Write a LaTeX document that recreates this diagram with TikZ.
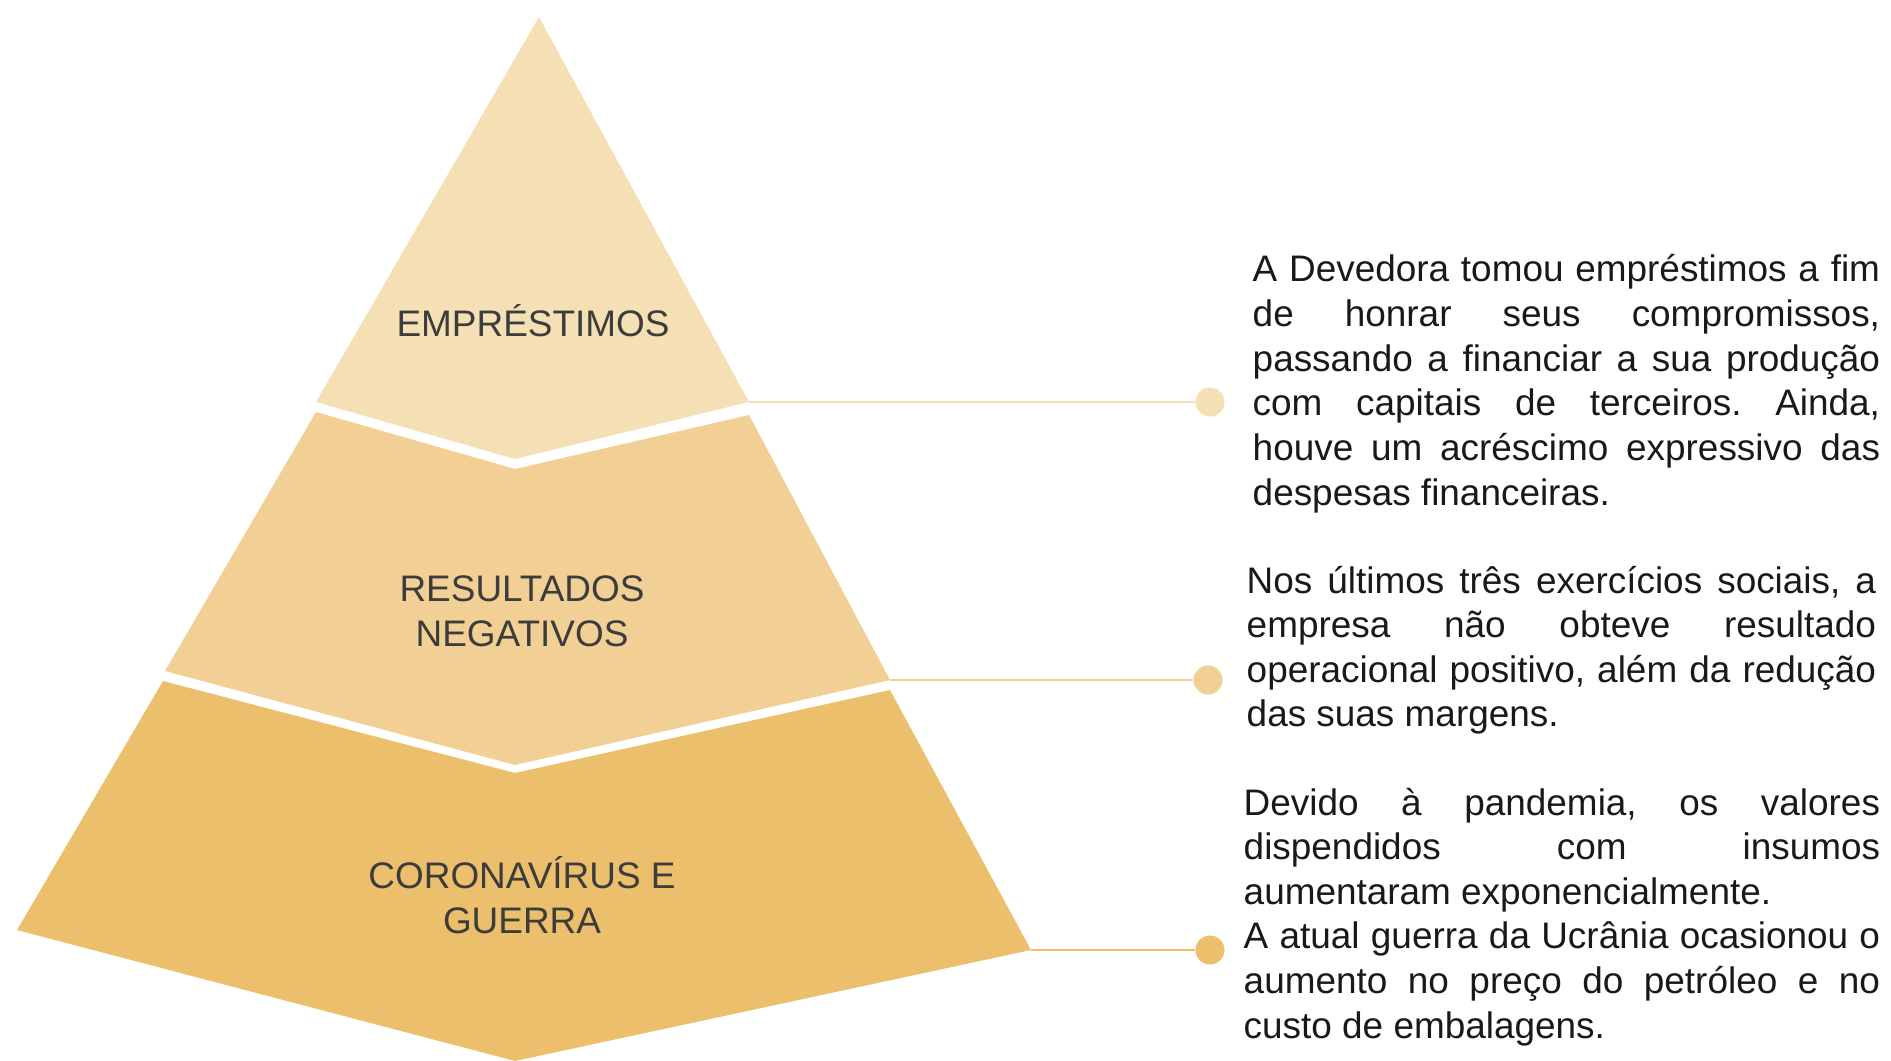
\documentclass[tikz,border=0pt]{standalone}
\usepackage{fontspec}
\setmainfont{Liberation Sans}
\usepackage{tikz}
\usetikzlibrary{positioning}
\definecolor{tierA}{RGB}{245,223,180}
\definecolor{tierB}{RGB}{242,208,149}
\definecolor{tierC}{RGB}{236,191,108}
\definecolor{tiertext}{RGB}{60,60,60}
\hyphenpenalty=10000
\exhyphenpenalty=10000
\frenchspacing

\begin{document}
\begin{tikzpicture}[
    x=0.01cm,
    y=-0.01cm,
    tier/.style={
        align=center,
        inner sep=0pt,
        text=tiertext,
        font=\fontsize{10.5}{12.7}\selectfont
    },
    note/.style={
        anchor=base west,
        align=justify,
        inner sep=0pt,
        text=black!90,
        font=\fontsize{10.5}{12.7}\selectfont
    },
    dot/.style={
        circle,
        inner sep=0pt,
        minimum size=0.29cm
    },
    link/.style={
        line width=0.6pt
    }
]
\useasboundingbox (0,0) rectangle (1891,1061);
% pyramid layers
\fill[tierA] (539,17) -- (749,402) -- (515,459) -- (316,402) -- cycle;
\fill[tierB] (316,412) -- (515,469) -- (749,415) -- (890,680)
    -- (515,765) -- (165,671) -- cycle;
\fill[tierC] (163,681) -- (515,773) -- (890,690) -- (1031,950)
    -- (515,1061) -- (17,930) -- cycle;
\coordinate (tA) at (749,402);
\coordinate (tB) at (890,680);
\coordinate (tC) at (1031,950);
\node[tier, anchor=base] (emp) at (533,337) {EMPRÉSTIMOS};
\node[tier, anchor=base] (res) at (522,646) {RESULTADOS\\NEGATIVOS};
\node[tier, anchor=base] (cor) at (522,933) {CORONAVÍRUS E\\GUERRA};
% dots and links
\node[dot, fill=tierA] (dA) at (1210,402) {};
\node[dot, fill=tierB] (dB) at (1208,680) {};
\node[dot, fill=tierC] (dC) at (1210,950) {};
\draw[link, tierA] (tA) -- (dA);
\draw[link, tierB] (tB) -- (dB);
\draw[link, tierC] (tC) -- (dC);
% notes
\node[note, text width=6.27cm] (nA) at (1252,282)
{A Devedora tomou empréstimos a fim\linebreak
de honrar seus compromissos,\linebreak
passando a financiar a sua produção\linebreak
com capitais de terceiros. Ainda,\linebreak
houve um acréscimo expressivo das\linebreak
despesas financeiras.};
\node[note, text width=6.29cm] (nB) at (1246,593)
{Nos últimos três exercícios sociais, a\linebreak
empresa não obteve resultado\linebreak
operacional positivo, além da redução\linebreak
das suas margens.};
\node[note, text width=6.36cm] (nC) at (1243,815)
{Devido à pandemia, os valores\linebreak
dispendidos com insumos\linebreak
aumentaram exponencialmente.\\
A atual guerra da Ucrânia ocasionou o\linebreak
aumento no preço do petróleo e no\linebreak
custo de embalagens.};
\end{tikzpicture}
\end{document}
